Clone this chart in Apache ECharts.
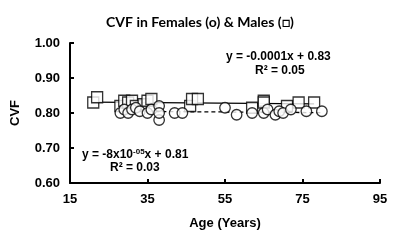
<!DOCTYPE html>
<html>
<head>
<meta charset="utf-8">
<script src="https://cdn.jsdelivr.net/npm/echarts@6/dist/echarts.min.js"></script>
<style>
  html, body { margin: 0; padding: 0; background: #fff; }
  #chart { width: 400px; height: 240px; }
</style>
</head>
<body>
<div id="chart"></div>
<script>
  // tick labels
  var xTicks = [15, 35, 55, 75, 95];
  var yTicks = [0.60, 0.70, 0.80, 0.90, 1.00];

  // Males (squares): [age, CVF]
  var males = [
    [21, 0.83], [22, 0.845], [28, 0.82], [29, 0.835], [30, 0.83], [31, 0.835],
    [32, 0.82], [34, 0.825], [35, 0.835], [36, 0.84], [46, 0.82], [46.5, 0.84],
    [48, 0.84], [62, 0.815], [65, 0.835], [65, 0.83], [71, 0.82], [74, 0.83], [78, 0.83]
  ];

  // Females (circles): [age, CVF]
  var females = [
    [28, 0.80], [29, 0.81], [30, 0.80], [31, 0.81], [32, 0.815], [33, 0.805],
    [35, 0.80], [36, 0.81], [38, 0.82], [38, 0.78], [38, 0.80], [42, 0.80],
    [44, 0.80], [55, 0.815], [58, 0.795], [62, 0.80], [65, 0.80], [66, 0.81],
    [68, 0.795], [69, 0.805], [70, 0.80], [72, 0.81], [76, 0.805], [80, 0.805]
  ];

  // trendline endpoints
  var maleTrend = [[21, 0.831], [78, 0.826]];
  var femaleTrend = [[28, 0.805], [80, 0.801]];

  var myChart = echarts.init(document.getElementById('chart'));

  var bold = { fontFamily: 'Liberation Sans', fontWeight: 'bold', color: '#000' };

  var option = {
    animation: false,
    title: {
      text: 'CVF in Females (o) & Males (\u25A1)',
      left: 'center',
      top: 10,
      textStyle: { fontFamily: 'Lato', fontWeight: 'bold', fontSize: 14, color: '#000' }
    },
    grid: { left: 70, right: 20, top: 43, bottom: 57 },
    xAxis: {
      type: 'value',
      min: 15, max: 95, interval: 20,
      name: 'Age (Years)',
      nameLocation: 'middle',
      nameGap: 34,
      nameTextStyle: Object.assign({ fontSize: 13 }, bold),
      axisLine: { lineStyle: { color: '#000', width: 2 } },
      axisTick: { inside: true, length: 4, lineStyle: { color: '#000', width: 2 } },
      axisLabel: Object.assign({ fontSize: 13, margin: 10 }, bold),
      splitLine: { show: false }
    },
    yAxis: {
      type: 'value',
      min: 0.6, max: 1.0, interval: 0.1,
      name: 'CVF',
      nameLocation: 'middle',
      nameGap: 48,
      nameTextStyle: Object.assign({ fontSize: 13 }, bold),
      axisLine: { show: true, lineStyle: { color: '#000', width: 2 } },
      axisTick: { show: true, inside: true, length: 4, lineStyle: { color: '#000', width: 2 } },
      axisLabel: Object.assign({ fontSize: 13, margin: 10, formatter: function (v) { return v.toFixed(2); } }, bold),
      splitLine: { show: false }
    },
    series: [
      {
        name: 'Males',
        type: 'scatter',
        symbol: 'rect',
        symbolSize: 11,
        data: males,
        itemStyle: { color: '#fff', borderColor: '#000', borderWidth: 1.3 }
      },
      {
        name: 'Females',
        type: 'scatter',
        symbol: 'circle',
        symbolSize: 10.5,
        data: females,
        itemStyle: { color: '#fff', borderColor: '#000', borderWidth: 1.3 }
      },
      {
        name: 'Male trend',
        type: 'line',
        data: maleTrend,
        symbol: 'none',
        lineStyle: { color: '#000', width: 1.3 },
        z: 1
      },
      {
        name: 'Female trend',
        type: 'line',
        data: femaleTrend,
        symbol: 'none',
        lineStyle: { color: '#000', width: 1.3, type: [4, 3] },
        z: 1
      }
    ],
    graphic: [
      {
        type: 'text', left: 226, top: 51,
        style: { text: 'y = -0.0001x + 0.83', font: 'bold 12px "Liberation Sans"', fill: '#000' }
      },
      {
        type: 'text', left: 255, top: 65,
        style: { text: 'R\u00B2 = 0.05', font: 'bold 12px "Liberation Sans"', fill: '#000' }
      },
      {
        type: 'text', left: 82, top: 148,
        style: {
          text: '{a|y = -8x10}{s|-05}{a|x + 0.81}',
          rich: {
            a: { font: 'bold 12px "Liberation Sans"', fill: '#000', verticalAlign: 'bottom' },
            s: { font: 'bold 8px "Liberation Sans"', fill: '#000', verticalAlign: 'top', padding: [0, 0, 5, 0] }
          }
        }
      },
      {
        type: 'text', left: 110, top: 162,
        style: { text: 'R\u00B2 = 0.03', font: 'bold 12px "Liberation Sans"', fill: '#000' }
      }
    ]
  };

  myChart.setOption(option);
</script>
</body>
</html>
